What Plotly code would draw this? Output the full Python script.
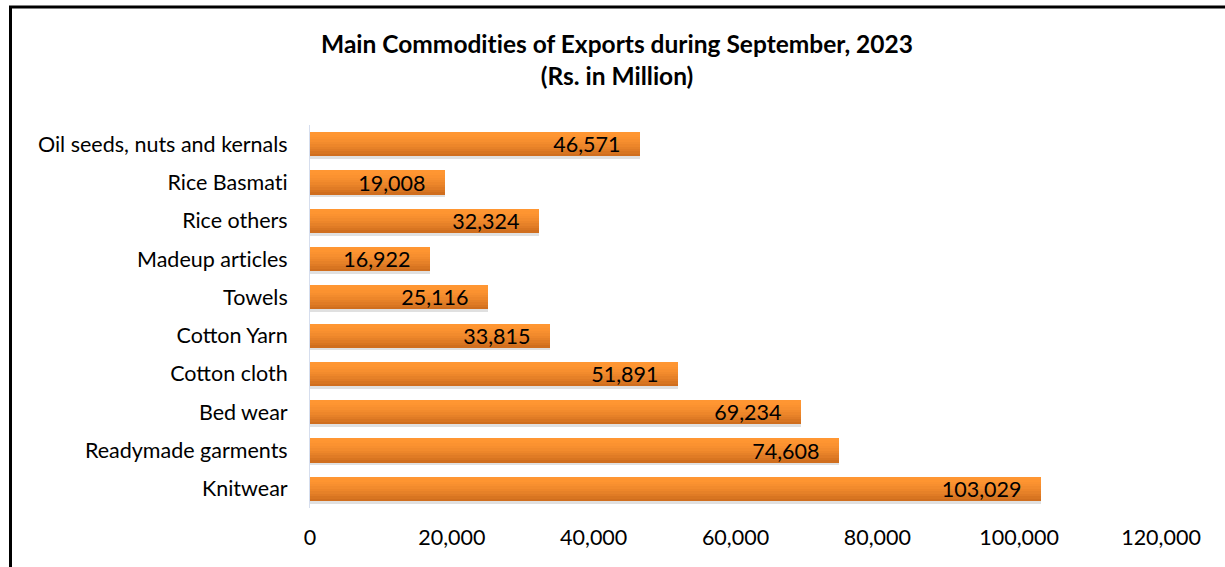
import plotly.graph_objects as go

categories = ["Oil seeds, nuts and kernals", "Rice Basmati", "Rice others", "Madeup articles",
              "Towels", "Cotton Yarn", "Cotton cloth", "Bed wear", "Readymade garments", "Knitwear"]
values = [46571, 19008, 32324, 16922, 25116, 33815, 51891, 69234, 74608, 103029]
tick_vals = [0, 20000, 40000, 60000, 80000, 100000, 120000]
tick_text = ["0", "20,000", "40,000", "60,000", "80,000", "100,000", "120,000"]
title_lines = ["Main Commodities of Exports during September, 2023", "(Rs. in Million)"]

W, H = 1225, 567
ML, MR, MT, MB = 310, 64, 125, 59
FONT = "Lato, Open Sans, sans-serif"
FS = 21.5
ZWNJ = "\u200c"


def no_lig(s):
    # avoid the font's automatic "ti"/"ft" ligatures
    return s.replace("ti", "t" + ZWNJ + "i").replace("ft", "f" + ZWNJ + "t")


fig = go.Figure()

bar_w = 0.63
# shadow
fig.add_trace(go.Bar(y=categories, x=values, orientation="h", width=bar_w,
                     offset=-bar_w / 2 + 0.07, marker=dict(color="rgba(0,0,0,0.12)", line=dict(width=0)),
                     hoverinfo="skip", showlegend=False))

# gradient bands (top light -> bottom dark)
n = 10
c0 = (255, 150, 50)
c1 = (208, 110, 30)
for i in range(n):
    t = i / (n - 1)
    t = t ** 1.6
    col = tuple(round(c0[k] + (c1[k] - c0[k]) * t) for k in range(3))
    fig.add_trace(go.Bar(y=categories, x=values, orientation="h", width=bar_w / n + 0.002,
                         offset=-bar_w / 2 + i * bar_w / n,
                         marker=dict(color="rgb(%d,%d,%d)" % col, line=dict(width=0)),
                         hoverinfo="skip", showlegend=False))

# text layer
fig.add_trace(go.Bar(y=categories, x=values, orientation="h", width=bar_w,
                     marker=dict(color="rgba(0,0,0,0)", line=dict(width=0)),
                     texttemplate="%{x:,}&nbsp;&nbsp;&nbsp;", textposition="inside", insidetextanchor="end",
                     constraintext="none",
                     textfont=dict(family=FONT, size=FS, color="#000000"),
                     cliponaxis=False, showlegend=False))

# border lines (left and top) in paper coords
pw = W - ML - MR
ph = H - MT - MB


def px_to_paper_x(px):
    return (px - ML) / pw


def py_to_paper_y(py):
    return (H - MB - py) / ph


fig.add_shape(type="line", xref="paper", yref="paper",
              x0=px_to_paper_x(10.5), x1=px_to_paper_x(10.5),
              y0=py_to_paper_y(6), y1=py_to_paper_y(570),
              line=dict(color="black", width=3))
fig.add_shape(type="line", xref="paper", yref="paper",
              x0=px_to_paper_x(9), x1=px_to_paper_x(1230),
              y0=py_to_paper_y(7), y1=py_to_paper_y(7),
              line=dict(color="black", width=3))

fig.update_layout(
    width=W, height=H,
    margin=dict(l=ML, r=MR, t=MT, b=MB),
    paper_bgcolor="white", plot_bgcolor="white",
    barmode="overlay", bargap=0,
    title=dict(text="<b>" + "<br>".join(no_lig(s) for s in title_lines) + "</b>",
               x=617 / W, xanchor="center", xref="container", y=1 - 53 / H, yanchor="top",
               yref="container",
               font=dict(family=FONT, size=24.5, color="#000000")),
    font=dict(family=FONT, size=FS, color="#000000"),
    xaxis=dict(range=[0, 120000], tickvals=tick_vals, ticktext=tick_text,
               showgrid=False, zeroline=False, showline=False, ticks="",
               ticklabelstandoff=14, tickfont=dict(family=FONT, size=FS, color="#000000")),
    yaxis=dict(categoryorder="array", categoryarray=categories, autorange="reversed",
               tickmode="array", tickvals=categories, ticktext=[no_lig(c) for c in categories],
               showgrid=False, zeroline=False, showline=True, linecolor="#D6DEEE", linewidth=1,
               ticks="", ticklabelstandoff=17, tickfont=dict(family=FONT, size=FS, color="#000000")),
)

fig.write_html("out.html")
